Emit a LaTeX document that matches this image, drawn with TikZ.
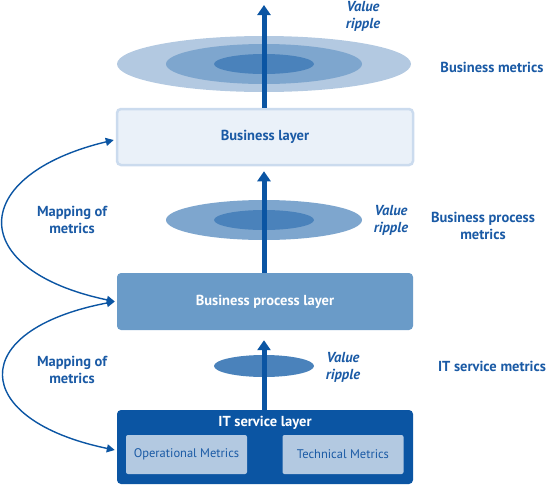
\documentclass[tikz,border=0pt]{standalone}
\usepackage{fontspec}
\setmainfont{PT Sans}
\usetikzlibrary{arrows.meta}
\definecolor{dblue}{HTML}{0B55A3}
\definecolor{tblue}{HTML}{1A5AA5}
\definecolor{ring1}{HTML}{B3C9E1}
\definecolor{ring2}{HTML}{7EA6CE}
\definecolor{ring3}{HTML}{4A82BB}
\definecolor{bl}{HTML}{EAF1F9}
\definecolor{bledge}{HTML}{CBDBEE}
\definecolor{bpl}{HTML}{6A9BC8}
\definecolor{metbox}{HTML}{B3C9E1}
\tikzset{
  lbl/.style={font=\fontsize{14.5}{17}\selectfont\bfseries, text=tblue, align=center},
  ripple/.style={font=\fontsize{14.5}{17}\selectfont\bfseries\itshape, text=tblue, align=center},
  layer/.style={rounded corners=4pt, minimum width=296pt, inner sep=0pt},
  flow/.style={line width=5pt, draw=dblue, -{Triangle[width=13pt,length=10pt]}},
  mapping/.style={line width=1.4pt, draw=dblue, {Triangle[width=8pt,length=8pt]}-{Triangle[width=8pt,length=8pt]}},
  metric/.style={fill=metbox, minimum width=121pt, minimum height=39pt, inner sep=0pt, rounded corners=2pt,
     font=\fontsize{12.5}{15}\selectfont, text=tblue},
}
\begin{document}
\begin{tikzpicture}[x=1pt,y=-1pt]
\useasboundingbox (0,0) rectangle (550,485);
% layers
\node[layer, fill=bl, draw=bledge, line width=2.5pt, minimum height=56pt, font=\fontsize{14.5}{17}\selectfont\bfseries, text=tblue] (bus) at (265,137) {Business layer};
\node[layer, fill=bpl, minimum height=57pt, font=\fontsize{14.5}{17}\selectfont\bfseries, text=white] (proc) at (265,301.5) {Business process layer};
\node[layer, fill=dblue, minimum height=74pt] (it) at (265,447) {};
\node[font=\fontsize{14.5}{17}\selectfont\bfseries, text=white] (ittitle) at (265,423) {IT service layer};
\node[metric] (op) at (186.5,454.5) {Operational Metrics};
\node[metric] (tech) at (343,454.5) {Technical Metrics};
% top ripple
\coordinate (top) at (264,5);
\fill[ring1] (264,64) ellipse [x radius=147pt, y radius=28pt];
\fill[ring2] (264,64) ellipse [x radius=98pt, y radius=20pt];
\fill[ring3] (264,64) ellipse [x radius=50pt, y radius=10pt];
\draw[flow] (bus.north -| top) -- (top);
% middle ripple
\fill[ring2] (264,220) ellipse [x radius=98pt, y radius=20pt];
\fill[ring3] (264,220) ellipse [x radius=50pt, y radius=10pt];
\draw[flow] (proc.north -| top) -- ([yshift=-5pt]bus.south -| top);
% bottom ripple
\fill[ring3] (264,366) ellipse [x radius=50pt, y radius=11pt];
\draw[flow] (it.north -| top) -- ([yshift=-10pt]proc.south -| top);
% labels
\node[ripple] (r1) at (363,16) {Value\\ripple};
\node[ripple] (r2) at (391,220) {Value\\ripple};
\node[ripple] (r3) at (343,367) {Value\\ripple};
\node[lbl] (m1) at (492,67) {Business metrics};
\node[lbl] (m2) at (483,226) {Business process\\metrics};
\node[lbl] (m3) at (492,366) {IT service metrics};
\node[lbl] (map1) at (72,220) {Mapping of\\metrics};
\node[lbl] (map2) at (72,370) {Mapping of\\metrics};
% mapping arcs
\coordinate (pin) at ([xshift=-2pt]proc.west);
\draw[mapping] (pin) .. controls (-35,270) and (-32,175) .. ([xshift=-2pt,yshift=-3pt]bus.west);
\draw[mapping] (pin) .. controls (-35,330) and (-30,420) .. ([xshift=-2pt,yshift=-3pt]it.west);
\end{tikzpicture}
\end{document}
